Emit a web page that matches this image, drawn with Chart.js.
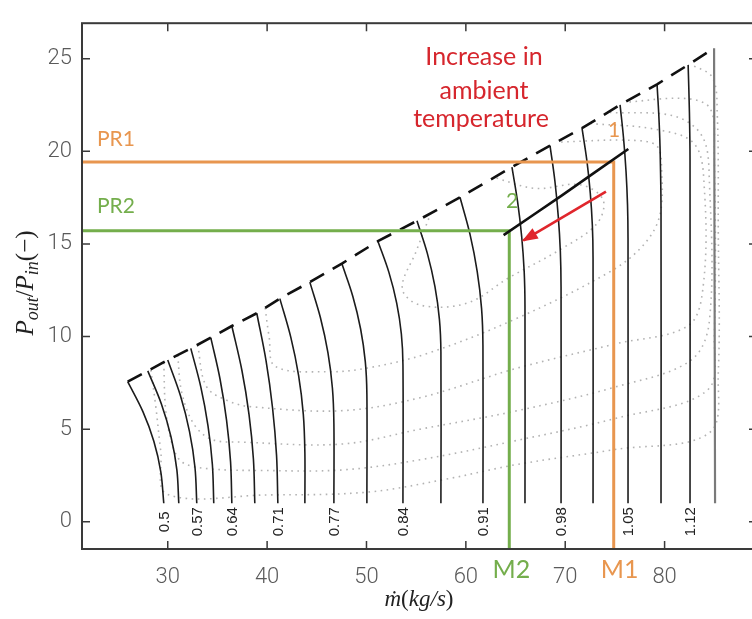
<!DOCTYPE html>
<html>
<head>
<meta charset="utf-8">
<script src="https://cdn.jsdelivr.net/npm/chart.js@4.4.1/dist/chart.umd.min.js"></script>
<style>
  html, body { margin: 0; padding: 0; background: #fff; overflow: hidden; }
  #wrap { position: relative; width: 760px; height: 619px; }
</style>
</head>
<body>
<div id="wrap"><canvas id="map"></canvas></div>
<script>
// axis ranges and tick labels
const X_MIN = 21.37, X_MAX = 89.3;
const Y_MIN = -1.47, Y_MAX = 26.92;
const xTicks = [30, 40, 50, 60, 70, 80];
const yTicks = [0, 5, 10, 15, 20, 25];

// constant speed lines, each from surge point down to low pressure ratio [mdot, PR]
const speedLines = [
  [[25.97, 7.57], [27.5, 5.95], [28.6, 4.35], [29.3, 2.7], [29.6, 1.0]],
  [[27.99, 8.15], [29.36, 6.36], [30.33, 4.58], [30.92, 2.79], [31.11, 1.0]],
  [[30.0, 8.73], [31.28, 6.8], [32.19, 4.87], [32.74, 2.93], [32.92, 1.0]],
  [[32.32, 9.36], [33.33, 7.27], [34.05, 5.18], [34.49, 3.09], [34.63, 1.0]],
  [[34.33, 9.94], [35.26, 7.71], [35.92, 5.47], [36.32, 3.24], [36.45, 1.0]],
  [[36.45, 10.57], [37.46, 8.18], [38.18, 5.79], [38.62, 3.39], [38.76, 1.0]],
  [[38.96, 11.26], [39.89, 8.7], [40.55, 6.13], [40.95, 3.57], [41.08, 1.0]],
  [[41.28, 12.05], [42.38, 9.97], [43.17, 7.89], [43.64, 5.81], [43.8, 3.73], [43.8, 1.0]],
  [[44.3, 12.94], [45.36, 11.03], [46.12, 9.13], [46.57, 7.22], [46.72, 5.31], [46.72, 1.0]],
  [[47.52, 13.94], [48.62, 12.18], [49.41, 10.41], [49.88, 8.65], [50.04, 6.89], [50.04, 1.0]],
  [[51.15, 15.15], [52.25, 13.48], [53.04, 11.81], [53.51, 10.14], [53.67, 8.47], [53.67, 1.0]],
  [[55.08, 16.25], [56.13, 14.48], [56.89, 12.7], [57.34, 10.93], [57.49, 9.15], [57.49, 1.0]],
  [[59.41, 17.52], [60.42, 15.52], [61.14, 13.52], [61.58, 11.52], [61.72, 9.52], [61.72, 1.0]],
  [[64.64, 19.15], [65.21, 17.27], [65.62, 15.39], [65.87, 13.51], [65.95, 11.63], [65.95, 1.0]],
  [[68.47, 20.31], [68.96, 18.4], [69.3, 16.49], [69.51, 14.59], [69.58, 12.68], [69.58, 1.0]],
  [[71.69, 21.25], [72.18, 19.5], [72.52, 17.76], [72.73, 16.01], [72.8, 14.26], [72.8, 1.0]],
  [[75.52, 22.51], [75.87, 20.71], [76.12, 18.91], [76.27, 17.11], [76.32, 15.31], [76.32, 1.0]],
  [[79.24, 23.62], [79.42, 21.94], [79.54, 20.26], [79.64, 16.89], [79.64, 1.0]],
  [[82.37, 24.67], [82.5, 22.1], [82.56, 19.52], [82.56, 1.0]],
  [[84.98, 25.57], [85.08, 1.0]]
];
// corrected speed tags (every other line)
const speedTags = ['0.5', '', '0.57', '', '0.64', '', '0.71', '', '0.77', '', '0.84', '', '0.91', '', '0.98', '', '1.05', '', '1.12', ''];

// efficiency islands (dotted)
const effContours = [
  [[28.3, 8.2], [28.8, 6.2], [29.3, 3.8], [29.9, 1.5], [40, 1.45], [50.1, 1.6], [58, 2.3], [65.2, 3.1], [75, 3.9], [84.5, 4.8], [85.4, 8], [85.4, 16], [85.3, 22], [84.8, 24.0], [82.6, 24.7]],
  [[29.6, 8.6], [29.8, 6.0], [30.5, 4.1], [31.5, 3.2], [34.2, 2.86], [39.3, 2.77], [47.6, 2.8], [55.4, 3.35], [65.2, 4.4], [75.2, 5.6], [84.3, 7.1], [85.0, 10], [85.0, 20], [84.6, 22.3], [82.2, 22.85], [76, 22.65]],
  [[31.0, 9.0], [31.4, 7.0], [32.6, 5.3], [34.4, 4.45], [37.5, 4.3], [47.6, 4.2], [55.4, 5.0], [65.2, 6.0], [75.2, 7.3], [82.6, 8.7], [84.5, 10.8], [84.5, 18.5], [83.8, 20.8], [81, 21.9], [74.5, 22.1]],
  [[33.0, 9.55], [33.9, 7.3], [36.2, 6.5], [38.6, 6.2], [47.6, 6.0], [55.4, 6.7], [65.2, 8.3], [75, 9.6], [82.4, 10.6], [83.9, 12.8], [84.0, 18], [83, 20.4], [79, 21.2], [72.6, 21.5]],
  [[39.8, 11.55], [40.2, 10.0], [40.8, 8.4], [46, 8.1], [50.1, 8.3], [56.2, 9.1], [65.2, 11.0], [74.5, 13.5], [77.8, 14.9], [79.5, 16.5], [79.7, 19.0], [79.2, 20.3], [76.4, 20.6], [69.3, 20.5]],
  [[56.5, 16.7], [55.0, 14.6], [53.6, 12.6], [55.4, 11.7], [60.1, 11.8], [64.4, 13.2], [69.5, 14.7], [73.2, 16.1], [73.8, 17.4], [71.5, 18.2], [67, 18.0], [62.8, 18.6]]
];

// operating points and running line
const pr1 = 19.43, m1 = 74.88;
const pr2 = 15.71, m2 = 64.37;
const runLine = [[63.8, 15.48], [69.6, 17.6], [76.35, 20.13]];
const tempArrow = [[74.1, 17.82], [65.8, 15.19]];

const ORANGE = '#e8964f', GREEN = '#74ae4c', RED = '#e0262c';
const pts = arr => arr.map(([x, y]) => ({ x, y }));

const datasets = [];
effContours.forEach(c => datasets.push({
  data: pts(c), borderColor: '#b3b3b3', borderWidth: 1.6, borderDash: [1.6, 4.5],
  tension: 0.35, order: 6
}));
speedLines.forEach((l, i) => datasets.push({
  data: pts(l), borderColor: i === speedLines.length - 1 ? '#7a7a7a' : '#1c1c1c',
  borderWidth: i === speedLines.length - 1 ? 2.2 : 1.6, tension: 0.35, order: 5
}));
datasets.push({
  data: speedLines.map(l => ({ x: l[0][0], y: l[0][1] })),
  borderColor: '#111', borderWidth: 2.6, borderDash: [16, 10], tension: 0, order: 4
});
datasets.push({
  data: [{ x: X_MIN, y: pr1 }, { x: m1, y: pr1 }, { x: m1, y: Y_MIN }],
  borderColor: ORANGE, borderWidth: 3, tension: 0, order: 3
});
datasets.push({
  data: [{ x: X_MIN, y: pr2 }, { x: m2, y: pr2 }, { x: m2, y: Y_MIN }],
  borderColor: GREEN, borderWidth: 3, tension: 0, order: 3
});
datasets.push({ data: pts(runLine), borderColor: '#111', borderWidth: 2.6, tension: 0.2, order: 2 });
datasets.push({ data: pts(tempArrow), borderColor: RED, borderWidth: 2.6, tension: 0, order: 1 });

function drawPieces(ctx, pieces, cx, cy, rot) {
  ctx.save();
  ctx.translate(cx, cy);
  ctx.rotate(rot);
  let w = 0;
  pieces.forEach(p => { ctx.font = p.f; w += ctx.measureText(p.t).width; });
  let xx = -w / 2;
  ctx.textAlign = 'left';
  ctx.textBaseline = 'alphabetic';
  pieces.forEach(p => {
    ctx.font = p.f;
    ctx.fillText(p.t, xx, p.dy || 0);
    xx += ctx.measureText(p.t).width;
  });
  ctx.restore();
}

const decor = {
  id: 'decor',
  afterDraw(chart) {
    const { ctx, chartArea: a, scales: { x, y } } = chart;
    const px = v => x.getPixelForValue(v), py = v => y.getPixelForValue(v);
    ctx.save();

    // box with inward ticks
    ctx.strokeStyle = '#3a3a3a';
    ctx.lineWidth = 2;
    ctx.strokeRect(a.left, a.top, a.right - a.left, a.bottom - a.top);
    ctx.lineWidth = 1.5;
    ctx.beginPath();
    x.ticks.forEach(t => {
      const p = px(t.value);
      ctx.moveTo(p, a.bottom); ctx.lineTo(p, a.bottom - 8);
      ctx.moveTo(p, a.top); ctx.lineTo(p, a.top + 8);
    });
    y.ticks.forEach(t => {
      const p = py(t.value);
      ctx.moveTo(a.left, p); ctx.lineTo(a.left + 8, p);
      ctx.moveTo(a.right, p); ctx.lineTo(a.right - 8, p);
    });
    ctx.stroke();

    // arrow head
    const [p0, p1] = tempArrow.map(([vx, vy]) => [px(vx), py(vy)]);
    const ang = Math.atan2(p1[1] - p0[1], p1[0] - p0[0]);
    ctx.fillStyle = RED;
    ctx.beginPath();
    ctx.moveTo(p1[0] + 2 * Math.cos(ang), p1[1] + 2 * Math.sin(ang));
    ctx.lineTo(p1[0] - 14 * Math.cos(ang) + 6 * Math.sin(ang), p1[1] - 14 * Math.sin(ang) - 6 * Math.cos(ang));
    ctx.lineTo(p1[0] - 14 * Math.cos(ang) - 6 * Math.sin(ang), p1[1] - 14 * Math.sin(ang) + 6 * Math.cos(ang));
    ctx.closePath();
    ctx.fill();

    // speed tags
    ctx.fillStyle = '#222';
    ctx.font = '15px "Liberation Sans", Arial, sans-serif';
    ctx.textAlign = 'center';
    ctx.textBaseline = 'middle';
    speedLines.forEach((l, i) => {
      if (!speedTags[i]) return;
      ctx.save();
      ctx.translate(px(l[l.length - 1][0]) + 1, py(0));
      ctx.rotate(-Math.PI / 2);
      ctx.fillText(speedTags[i], 0, 0);
      ctx.restore();
    });

    // annotations
    ctx.textBaseline = 'alphabetic';
    ctx.font = '21px Lato, "Open Sans", sans-serif';
    ctx.textAlign = 'left';
    ctx.fillStyle = ORANGE;
    ctx.fillText('PR1', 97, 146);
    ctx.fillStyle = GREEN;
    ctx.fillText('PR2', 97, 213);
    ctx.textAlign = 'center';
    ctx.fillStyle = ORANGE;
    ctx.fillText('1', 614, 137);
    ctx.fillStyle = GREEN;
    ctx.fillText('2', 512, 208);
    ctx.font = '25px Lato, "Open Sans", sans-serif';
    ctx.fillStyle = GREEN;
    ctx.fillText('M2', px(m2) + 2, 578);
    ctx.fillStyle = ORANGE;
    ctx.fillText('M1', px(m1) + 6, 578);
    ctx.fillStyle = '#d6262d';
    ctx.font = '25px Lato, "Open Sans", sans-serif';
    ctx.fillText('Increase in', 484, 65);
    ctx.fillText('ambient', 484, 99);
    ctx.fillText('temperature', 481, 127);

    // axis titles
    ctx.fillStyle = '#222';
    const it = s => 'italic ' + s + 'px "Liberation Serif", "DejaVu Serif", serif';
    const up = s => s + 'px "Liberation Serif", "DejaVu Serif", serif';
    drawPieces(ctx, [
      { t: 'ṁ', f: it(23) }, { t: '(', f: up(23) }, { t: 'kg/s', f: it(23) }, { t: ')', f: up(23) }
    ], 419, 606, 0);
    drawPieces(ctx, [
      { t: 'P', f: it(25) }, { t: 'out', f: it(18), dy: 5 }, { t: '/', f: up(25) },
      { t: 'P', f: it(25) }, { t: 'in', f: it(18), dy: 5 }, { t: '(−)', f: up(25) }
    ], 33, 283, -Math.PI / 2);

    ctx.restore();
  }
};

new Chart(document.getElementById('map').getContext('2d'), {
  type: 'scatter',
  data: { datasets: datasets.map(d => Object.assign({ showLine: true, pointRadius: 0, fill: false }, d)) },
  options: {
    responsive: true,
    maintainAspectRatio: false,
    animation: false,
    layout: { padding: { left: 0, top: 9, right: 3, bottom: 0 } },
    plugins: { legend: { display: false }, tooltip: { enabled: false } },
    scales: {
      x: {
        type: 'linear', min: X_MIN, max: X_MAX,
        afterBuildTicks: s => { s.ticks = xTicks.map(v => ({ value: v })); },
        afterFit: s => { s.height = 70; },
        grid: { display: false, drawTicks: false },
        border: { display: false },
        ticks: { color: '#5a5a5a', padding: 15, maxRotation: 0, font: { family: 'Roboto', weight: 300, size: 22 } }
      },
      y: {
        type: 'linear', min: Y_MIN, max: Y_MAX,
        afterBuildTicks: s => { s.ticks = yTicks.map(v => ({ value: v })); },
        afterFit: s => { s.width = 82; },
        grid: { display: false, drawTicks: false },
        border: { display: false },
        ticks: { color: '#5a5a5a', padding: 10, font: { family: 'Roboto', weight: 300, size: 22 } }
      }
    }
  },
  plugins: [decor]
});
</script>
</body>
</html>
